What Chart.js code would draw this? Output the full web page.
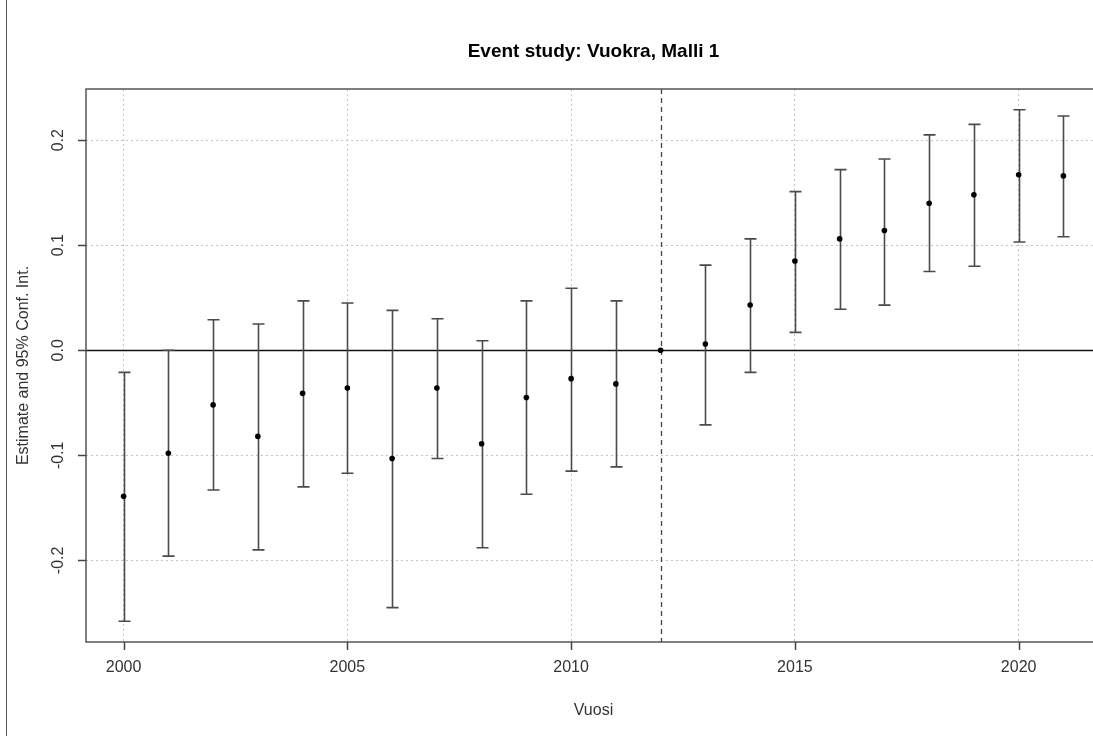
<!DOCTYPE html>
<html>
<head>
<meta charset="utf-8">
<title>Event study: Vuokra, Malli 1</title>
<script src="https://cdn.jsdelivr.net/npm/chart.js@4.4.1/dist/chart.umd.min.js"></script>
<style>
    html, body { margin: 0; padding: 0; background: #fff; overflow: hidden; }
    #wrap { position: relative; width: 1120px; height: 736px; }
    #edge { position: absolute; left: 6px; top: 0; width: 0; height: 736px; border-left: 1px solid #555; }
</style>
</head>
<body>
<div id="wrap">
    <canvas id="chart"></canvas>
    <div id="edge"></div>
</div>
<script>
// data
const years = [2000, 2001, 2002, 2003, 2004, 2005, 2006, 2007, 2008, 2009, 2010,
               2011, 2012, 2013, 2014, 2015, 2016, 2017, 2018, 2019, 2020, 2021];
const estimates = [-0.139, -0.098, -0.052, -0.082, -0.041, -0.036, -0.103, -0.036, -0.089, -0.045, -0.027,
                   -0.032, 0.000, 0.006, 0.043, 0.085, 0.106, 0.114, 0.140, 0.148, 0.167, 0.166];
const lower = [-0.258, -0.196, -0.133, -0.190, -0.130, -0.117, -0.245, -0.103, -0.188, -0.137, -0.115,
               -0.111, null, -0.071, -0.021, 0.017, 0.039, 0.043, 0.075, 0.080, 0.103, 0.108];
const upper = [-0.021, 0.000, 0.029, 0.025, 0.047, 0.045, 0.038, 0.030, 0.009, 0.047, 0.059,
               0.047, null, 0.081, 0.106, 0.151, 0.172, 0.182, 0.205, 0.215, 0.229, 0.223];
const xTicks = [2000, 2005, 2010, 2015, 2020];
const xTickLabels = ["2000", "2005", "2010", "2015", "2020"];
const yTicks = [-0.2, -0.1, 0.0, 0.1, 0.2];
const yTickLabels = ["-0.2", "-0.1", "0.0", "0.1", "0.2"];
const eventYear = 2012;

const titleText = "Event study: Vuokra, Malli 1";
const xLabel = "Vuosi";
const yLabel = "Estimate and 95% Conf. Int.";

const FONT = "Liberation Sans, Arial, sans-serif";

// R-style extras: error bars, reference lines, box, ticks and texts
const rPlot = {
    id: "rPlot",
    beforeDatasetsDraw(chart) {
        const ctx = chart.ctx;
        const a = chart.chartArea;
        const xs = chart.scales.x, ys = chart.scales.y;
        ctx.save();

        // zero line
        ctx.strokeStyle = "#111";
        ctx.lineWidth = 1.3;
        ctx.beginPath();
        ctx.moveTo(a.left, Math.round(ys.getPixelForValue(0)) + 0.5);
        ctx.lineTo(a.right, Math.round(ys.getPixelForValue(0)) + 0.5);
        ctx.stroke();

        // event line
        const ex = Math.round(xs.getPixelForValue(eventYear)) + 0.5;
        ctx.strokeStyle = "#444";
        ctx.setLineDash([5, 4]);
        ctx.beginPath();
        ctx.moveTo(ex, a.top);
        ctx.lineTo(ex, a.bottom);
        ctx.stroke();
        ctx.setLineDash([]);

        // error bars
        ctx.strokeStyle = "#4a4a4a";
        ctx.lineWidth = 1.6;
        years.forEach((yr, i) => {
            if (lower[i] === null || upper[i] === null) return;
            const px = Math.round(xs.getPixelForValue(yr)) + 0.5;
            const lo = ys.getPixelForValue(lower[i]);
            const hi = ys.getPixelForValue(upper[i]);
            ctx.beginPath();
            ctx.moveTo(px, lo);
            ctx.lineTo(px, hi);
            ctx.moveTo(px - 6, lo);
            ctx.lineTo(px + 6, lo);
            ctx.moveTo(px - 6, hi);
            ctx.lineTo(px + 6, hi);
            ctx.stroke();
        });

        // box
        ctx.strokeStyle = "#555";
        ctx.lineWidth = 1.5;
        ctx.strokeRect(a.left, a.top, a.right - a.left, a.bottom - a.top);
        ctx.restore();
    },
    afterDraw(chart) {
        const ctx = chart.ctx;
        const a = chart.chartArea;
        const xs = chart.scales.x, ys = chart.scales.y;
        ctx.save();

        // tick marks
        ctx.strokeStyle = "#444";
        ctx.lineWidth = 1.5;
        ctx.beginPath();
        xTicks.forEach(v => {
            const px = Math.round(xs.getPixelForValue(v)) + 0.5;
            ctx.moveTo(px, a.bottom);
            ctx.lineTo(px, a.bottom + 8);
        });
        yTicks.forEach(v => {
            const py = Math.round(ys.getPixelForValue(v)) + 0.5;
            ctx.moveTo(a.left, py);
            ctx.lineTo(a.left - 8, py);
        });
        ctx.stroke();

        // tick labels
        ctx.fillStyle = "#333";
        ctx.font = "16px " + FONT;
        ctx.textAlign = "center";
        ctx.textBaseline = "middle";
        xTicks.forEach((v, i) => {
            ctx.fillText(xTickLabels[i], xs.getPixelForValue(v), 668);
        });
        yTicks.forEach((v, i) => {
            ctx.save();
            ctx.translate(58.5, ys.getPixelForValue(v));
            ctx.rotate(-Math.PI / 2);
            ctx.fillText(yTickLabels[i], 0, 0);
            ctx.restore();
        });

        // axis titles
        const cx = (a.left + a.right) / 2;
        ctx.fillText(xLabel, cx, 711);
        ctx.save();
        ctx.translate(24, (a.top + a.bottom) / 2);
        ctx.rotate(-Math.PI / 2);
        ctx.fillText(yLabel, 0, 0);
        ctx.restore();

        // main title
        ctx.fillStyle = "#000";
        ctx.font = "bold 19px " + FONT;
        ctx.fillText(titleText, cx, 52);
        ctx.restore();
    }
};

const gridStyle = {
    color: "#c4c4c4",
    lineWidth: 1,
    drawTicks: false
};
const borderStyle = { display: false, dash: [2, 3] };

new Chart(document.getElementById("chart"), {
    type: "scatter",
    data: {
        datasets: [{
            label: "Estimate",
            data: years.map((yr, i) => ({ x: yr, y: estimates[i] })),
            pointRadius: 2.8,
            pointHoverRadius: 2.8,
            backgroundColor: "#000",
            borderWidth: 0,
            showLine: false
        }]
    },
    options: {
        responsive: true,
        maintainAspectRatio: false,
        animation: false,
        devicePixelRatio: 1,
        layout: { padding: { left: 0, right: 19, top: 89, bottom: 0 } },
        plugins: {
            legend: { display: false },
            title: { display: false },
            tooltip: { enabled: false }
        },
        scales: {
            x: {
                type: "linear",
                min: 1999.16,
                max: 2021.84,
                grid: gridStyle,
                border: borderStyle,
                ticks: { display: false },
                afterBuildTicks: scale => { scale.ticks = xTicks.map(v => ({ value: v })); },
                afterFit: scale => { scale.height = 94; }
            },
            y: {
                type: "linear",
                min: -0.2777,
                max: 0.2487,
                grid: gridStyle,
                border: borderStyle,
                ticks: { display: false },
                afterBuildTicks: scale => { scale.ticks = yTicks.map(v => ({ value: v })); },
                afterFit: scale => { scale.width = 86; }
            }
        }
    },
    plugins: [rPlot]
});
</script>
</body>
</html>
